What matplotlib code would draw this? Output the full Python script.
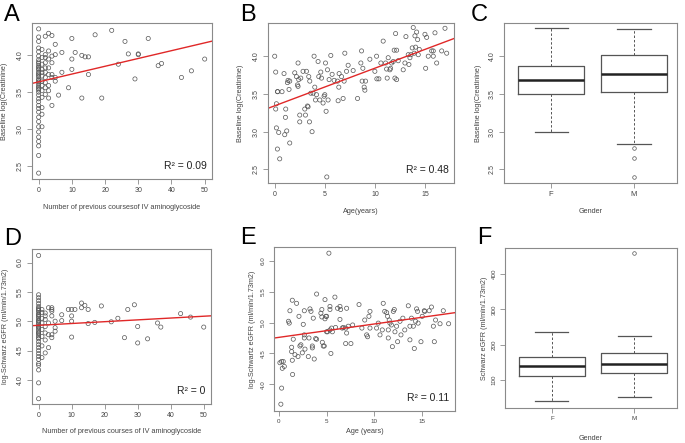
import numpy as np
import matplotlib.pyplot as plt

plt.rcParams['font.family'] = ['Liberation Sans', 'DejaVu Sans']

# ---- A: courses of IV aminoglycoside vs baseline log(creatinine)
courses_A = [0, 0, 0, 0, 0, 0, 0, 0, 0, 0, 0, 0, 0, 0, 0, 0, 0, 0, 0, 0, 0,
             0, 0, 0, 0, 0, 0, 0, 0, 0, 0, 0, 0, 0, 0, 0, 0, 0, 0, 0, 0,
             1, 1, 1, 1, 1, 1, 1, 1, 1, 1, 1, 1, 1,
             2, 2, 2, 2, 2, 2, 2, 2, 2, 2,
             3, 3, 3, 3, 3, 3, 3, 3,
             4, 4, 4, 4, 4, 4,
             5, 5, 5, 5, 6, 7, 7, 9, 10, 10, 10, 11, 13, 13, 14, 15, 15,
             17, 19, 22, 24, 26, 27, 29, 30, 30, 33, 36, 37, 43, 46, 50]
creat_A = [4.36, 4.25, 4.19, 4.10, 4.05, 3.99, 3.94, 3.91, 3.89, 3.86, 3.84, 3.82, 3.80, 3.77,
           3.75, 3.73, 3.71, 3.68, 3.66, 3.64, 3.62, 3.59, 3.57, 3.55, 3.53, 3.50, 3.46, 3.41,
           3.37, 3.32, 3.28, 3.23, 3.16, 3.10, 3.03, 2.96, 2.89, 2.83, 2.77, 2.64, 2.40,
           4.08, 3.97, 3.88, 3.81, 3.77, 3.72, 3.65, 3.59, 3.52, 3.43, 3.29, 3.20, 3.03,
           4.26, 4.01, 3.97, 3.90, 3.83, 3.77, 3.70, 3.63, 3.56, 3.47,
           4.30, 4.06, 3.95, 3.83, 3.74, 3.59, 3.52, 3.42,
           4.27, 3.99, 3.90, 3.74, 3.70, 3.32,
           4.15, 4.01, 3.70, 3.65, 3.46, 4.04, 3.77, 3.56, 4.23, 3.95, 3.81, 4.04, 4.00, 3.42, 3.98, 3.98, 3.74,
           4.28, 3.42, 4.34, 3.88, 4.19, 4.02, 3.68, 4.01, 4.02, 4.23, 3.86, 3.89, 3.70, 3.79, 3.95]
fit_A = (3.64, 0.0106)   # intercept, slope
r2_A = 'R² = 0.09'

# ---- B: age vs baseline log(creatinine)
age_B = [0.0, 0.1, 0.17, 0.1, 0.27, 0.3, 0.17, 0.4, 0.27, 0.5, 0.73, 0.93, 1.1, 1.07, 1.0, 1.2,
         1.27, 1.33, 1.5, 1.43, 1.5, 2.0, 2.17, 2.27, 2.33, 2.33, 2.4, 2.5, 2.5, 2.6, 2.83, 3.0,
         3.07, 3.17, 3.27, 3.33, 3.4, 3.5, 3.6, 3.47, 3.73, 3.83, 3.93, 4.0, 4.07, 4.17, 4.33, 4.4,
         4.5, 4.6, 4.67, 4.83, 4.93, 5.0, 5.07, 5.13, 5.2, 5.27, 5.33, 5.43, 5.6, 5.73, 5.93, 6.27,
         6.33, 6.4, 6.43, 6.67, 6.83, 6.93, 7.0, 7.17, 7.33, 7.83, 8.27, 8.6, 8.67, 8.73, 8.8, 8.93,
         9.0, 9.07, 9.5, 10.0, 10.17, 10.2, 10.4, 10.6, 10.83, 11.07, 11.17, 11.23, 11.33, 11.5,
         11.57, 11.67, 11.83, 11.93, 12.0, 12.07, 12.17, 12.17, 12.33, 12.83, 13.0, 13.1, 13.33,
         13.4, 13.5, 13.6, 13.73, 13.83, 13.93, 14.0, 14.07, 14.17, 14.27, 14.33, 14.43, 15.0,
         15.07, 15.17, 15.33, 15.67, 15.83, 16.0, 16.17, 16.67, 17.0, 17.17, 15.83]
creat_B = [4.00, 3.79, 3.37, 3.30, 3.53, 3.53, 3.05, 2.99, 2.77, 2.64, 3.53, 3.77, 3.30, 3.19, 2.96, 3.01,
           3.65, 3.68, 2.85, 3.56, 3.67, 3.78, 3.73, 3.62, 3.91, 3.60, 3.69, 3.22, 3.13, 3.71, 3.80, 3.30,
           3.22, 3.80, 3.34, 3.33, 3.73, 3.67, 3.51, 3.13, 3.00, 3.51, 4.00, 3.59, 3.42, 3.49, 3.93, 3.73,
           3.42, 3.79, 3.71, 3.38, 3.47, 3.49, 3.91, 3.27, 2.40, 3.82, 3.42, 3.69, 4.01, 3.76, 3.68, 3.67,
           3.41, 3.59, 3.77, 3.73, 3.44, 3.67, 4.04, 3.80, 3.88, 3.81, 3.44, 3.91, 4.07, 3.67, 3.84, 3.59,
           3.55, 3.67, 3.96, 3.80, 4.00, 3.70, 3.70, 3.91, 4.20, 3.91, 3.83, 3.71, 3.98, 3.82,
           3.84, 3.91, 3.93, 4.08, 3.71, 4.30, 4.08, 3.69, 3.94, 3.82, 3.91, 4.26, 4.02,
           3.89, 3.98, 4.02, 4.11, 4.38, 4.04, 4.27, 4.12, 4.32, 4.22, 4.02, 4.09, 4.29,
           3.84, 4.25, 4.00, 4.07, 4.07, 4.31, 3.91, 4.07, 4.37, 4.04, 4.00]
fit_B = (3.343, 0.0498)
r2_B = 'R² = 0.48'

# ---- C: gender boxplot of baseline log(creatinine)
genders = ['F', 'M']
med_C = [3.69, 3.77]
q1_C = [3.50, 3.53]
q3_C = [3.87, 4.01]
whislo_C = [3.00, 2.84]
whishi_C = [4.38, 4.36]
fliers_C = [[], [2.78, 2.65, 2.40]]

# ---- D: courses vs log-Schwartz eGFR
courses_D = [0, 0, 0, 0, 0, 0, 0, 0, 0, 0, 0, 0, 0, 0, 0, 0, 0, 0, 0, 0,
             0, 0, 0, 0, 0, 0, 0, 0, 0, 0, 0, 0, 0, 0, 0, 0, 0, 0, 0, 0,
             1, 1, 1, 1, 1, 1, 1, 1,
             2, 2, 2, 2, 2, 2, 2,
             3, 3, 3, 3,
             4, 4, 4, 4, 4, 4,
             5, 5, 5, 7, 7, 9, 10, 10, 10, 10, 11, 13, 13, 14, 15, 15, 17, 19,
             22, 24, 26, 27, 29, 30, 30, 33, 36, 37, 43, 46, 50]
egfr_D = [6.12, 5.45, 5.40, 5.35, 5.30, 5.25, 5.22, 5.20, 5.18, 5.15, 5.12, 5.10, 5.08, 5.05,
          5.02, 5.00, 4.98, 4.95, 4.92, 4.90, 4.88, 4.85, 4.82, 4.80, 4.78, 4.75, 4.72, 4.70,
          4.65, 4.60, 4.55, 4.50, 4.45, 4.40, 4.35, 4.28, 4.25, 4.17, 3.95, 3.68,
          5.20, 5.15, 5.05, 4.97, 4.86, 4.74, 4.58, 4.38,
          5.14, 5.09, 5.03, 4.91, 4.80, 4.68, 4.46,
          5.23, 4.97, 4.77, 4.55,
          5.23, 5.20, 5.17, 5.09, 4.77, 4.72,
          5.00, 4.89, 4.83, 5.11, 5.01, 5.20, 5.20, 5.09, 5.00, 4.73, 5.20, 5.31, 5.23, 5.27, 5.20, 4.96, 4.98, 5.26,
          4.99, 5.05, 4.72, 5.20, 5.28, 4.91, 4.63, 4.70, 4.97, 4.90, 5.13, 5.07, 4.90]
fit_D = (4.93, 0.0031)
r2_D = 'R² = 0'

# ---- E: age vs log-Schwartz eGFR
age_E = [0.1, 0.28, 0.45, 0.35, 0.56, 0.28, 0.2, 1.0, 1.08, 1.15, 1.33, 1.33, 1.4, 1.43, 1.4, 1.5,
         1.68, 1.85, 2.0, 2.1, 2.2, 2.3, 2.45, 2.55, 2.66, 2.66, 2.66, 2.73, 3.08, 3.15, 3.25, 3.36,
         3.5, 3.5, 3.6, 3.7, 3.85, 3.95, 3.95, 4.4, 4.5, 4.5, 4.55, 4.65, 4.75, 4.83, 4.83, 4.93,
         5.0, 5.0, 5.1, 5.24, 5.35, 5.35, 5.35, 5.45, 5.52, 5.6, 5.87, 5.94, 6.15, 6.4, 6.47, 6.4,
         6.64, 6.75, 7.0, 7.0, 7.1, 7.1, 7.27, 7.55, 7.73, 8.4, 8.7, 9.0, 9.2, 9.3, 9.44, 9.55, 9.55,
         10.24, 10.42, 10.6, 10.84, 10.94, 11.1, 11.3, 11.4, 11.47, 11.47, 11.57, 11.64, 11.8, 11.9,
         12.0, 12.1, 12.17, 12.34, 12.45, 12.7, 12.8, 13.0, 13.2, 13.57, 13.74, 13.74, 13.9, 14.1,
         14.2, 14.33, 14.44, 14.54, 14.6, 14.9, 15.03, 15.25, 15.3, 15.76, 16.0, 16.2, 16.3, 16.43,
         16.9, 17.24, 17.8]
egfr_E = [4.35, 4.37, 4.37, 4.26, 4.29, 3.94, 3.68, 5.02, 4.99, 5.19, 4.60, 4.53, 4.39, 4.16, 5.36, 4.73,
          4.48, 5.31, 4.45, 5.10, 4.62, 4.64, 4.51, 4.97, 5.19, 4.80, 4.75, 4.57, 4.45, 4.75, 5.22, 5.18,
          4.62, 4.59, 5.07, 4.41, 4.74, 5.46, 4.73, 5.15, 5.09, 5.21, 4.68, 4.62, 4.62, 5.37, 5.06, 5.10,
          5.10, 4.85, 4.85, 6.12, 5.26, 5.21, 4.88, 4.50, 4.91, 4.85, 5.41, 4.92, 5.23, 5.26, 5.21, 5.05,
          4.91, 4.92, 4.66, 4.91, 5.23, 4.83, 4.94, 4.66, 4.96, 5.29, 4.91, 5.04, 4.80, 4.77, 5.10, 5.18, 4.91,
          4.91, 4.99, 4.80, 4.88, 5.31, 5.18, 5.16, 5.10, 4.88, 4.75, 5.04, 4.99, 4.96, 4.61,
          5.18, 5.21, 4.85, 4.94, 4.69, 5.02, 4.80, 5.07, 4.88, 5.27, 4.94, 4.72, 5.07, 4.94,
          4.58, 5.02, 5.22, 5.18, 4.99, 4.69, 5.10, 5.19, 5.18, 5.19, 5.25, 4.94, 4.69, 5.04,
          4.98, 5.19, 4.98]
fit_E = (4.76, 0.0216)
r2_E = 'R² = 0.11'

# ---- F: gender boxplot of Schwartz eGFR
med_F = [139, 146]
q1_F = [112, 120]
q3_F = [165, 178]
whislo_F = [40, 52]
whishi_F = [237, 225]
fliers_F = [[], [459]]

W, H = 685, 443
fig = plt.figure(figsize=(W / 100, H / 100), dpi=100)
grey = '#8a8a8a'


def make_axes(l, r, t, b):
    ax = fig.add_axes([l / W, 1 - b / H, (r - l) / W, (b - t) / H])
    for s in ax.spines.values():
        s.set_color(grey)
        s.set_linewidth(0.8)
    ax.tick_params(direction='out', length=3.5, width=0.6, color=grey,
                   labelsize=5, labelcolor='#444444', pad=2.5)
    return ax


def labels(ax, xl, yl, xy, yx, letter, lx, ly):
    ax.text(0.5, xy, xl, transform=ax.transAxes, ha='center', va='center',
            fontsize=5.2, color='#444444')
    ax.text(yx, 0.5, yl, transform=ax.transAxes, ha='center', va='center',
            rotation=90, fontsize=5.2, color='#444444')
    fig.text(lx / W, 1 - ly / H, letter, fontsize=17, ha='left', va='baseline')


def scatter_panel(ax, x, y, fit, r2, xlim, ylim, xticks, yticks):
    ax.scatter(x, y, s=9, facecolors='none', edgecolors='#555555', linewidths=0.5)
    xs = np.array(xlim)
    ax.plot(xs, fit[0] + fit[1] * xs, color='#e02828', lw=1.0)
    ax.set_xlim(xlim)
    ax.set_ylim(ylim)
    ax.set_xticks(xticks)
    ax.set_yticks(yticks)
    ax.set_yticklabels([f'{v:.1f}' for v in yticks], rotation=90, va='center')
    ax.text(0.97, 0.05, r2, transform=ax.transAxes, ha='right', va='bottom',
            fontsize=7.5, color='#222222')


def box_panel(ax, med, q1, q3, lo, hi, fl, ylim, yticks):
    stats = []
    for i, g in enumerate(genders):
        stats.append(dict(med=med[i], q1=q1[i], q3=q3[i], whislo=lo[i], whishi=hi[i],
                          fliers=fl[i], label=g))
    ax.bxp(stats, positions=[1, 2], widths=0.8,
           boxprops=dict(color='#555555', lw=0.9),
           medianprops=dict(color='#222222', lw=1.8),
           whiskerprops=dict(color='#555555', lw=0.7, ls=(0, (2.5, 2))),
           capprops=dict(color='#555555', lw=0.9),
           flierprops=dict(marker='o', markersize=2.6, markerfacecolor='none',
                           markeredgecolor='#555555', markeredgewidth=0.5))
    ax.set_xlim(0.43, 2.52)
    ax.set_ylim(ylim)
    ax.set_yticks(yticks)
    ax.set_yticklabels([f'{v:g}' if v >= 100 else f'{v:.1f}' for v in yticks],
                       rotation=90, va='center')
    ax.tick_params(axis='x', labelsize=5.5)


# A
axA = make_axes(32, 212, 23, 179)
scatter_panel(axA, courses_A, creat_A, fit_A, r2_A, (-2, 52.2), (2.32, 4.44),
              [0, 10, 20, 30, 40, 50], [2.5, 3.0, 3.5, 4.0])
labels(axA, 'Number of previous coursesof IV aminoglycoside', 'Baseline log(Creatinine)',
       -0.18, -0.15, 'A', 4, 21)

# B
axB = make_axes(268, 454, 23, 183)
scatter_panel(axB, age_B, creat_B, fit_B, r2_B, (-0.67, 17.9), (2.32, 4.44),
              [0, 5, 10, 15], [2.5, 3.0, 3.5, 4.0])
labels(axB, 'Age(years)', 'Baseline log(Creatinine)', -0.18, -0.15, 'B', 240, 21)

# C
axC = make_axes(504, 677, 23, 183)
box_panel(axC, med_C, q1_C, q3_C, whislo_C, whishi_C, fliers_C, (2.32, 4.44),
          [2.5, 3.0, 3.5, 4.0])
labels(axC, 'Gender', 'Baseline log(Creatinine)', -0.18, -0.15, 'C', 471, 21)

# D
axD = make_axes(32, 211, 249, 404)
scatter_panel(axD, courses_D, egfr_D, fit_D, r2_D, (-2, 52.2), (3.59, 6.23),
              [0, 10, 20, 30, 40, 50], [4.0, 4.5, 5.0, 5.5, 6.0])
labels(axD, 'Number of previous courses of IV aminoglycoside',
       'log-Schwarz eGFR (ml/min/1.73m2)', -0.18, -0.15, 'D', 4, 245)

# E
axE = make_axes(274, 455, 247, 411)
scatter_panel(axE, age_E, egfr_E, fit_E, r2_E, (-0.52, 18.47), (3.57, 6.22),
              [0, 5, 10, 15], [4.0, 4.5, 5.0, 5.5, 6.0])
axE.tick_params(labelsize=4.5)
labels(axE, 'Age (years)', 'log-Schwartz eGFR (ml/min/1.73m2)', -0.125, -0.12, 'E', 240, 244)

# F
axF = make_axes(505, 677, 248, 408)
box_panel(axF, med_F, q1_F, q3_F, whislo_F, whishi_F, fliers_F, (21, 474),
          [100, 200, 300, 400])
axF.tick_params(labelsize=4.5)
labels(axF, 'Gender', 'Schwarz eGFR (ml/min/1.73m2)', -0.19, -0.12, 'F', 477, 244)

fig.savefig('out.png', dpi=100)
